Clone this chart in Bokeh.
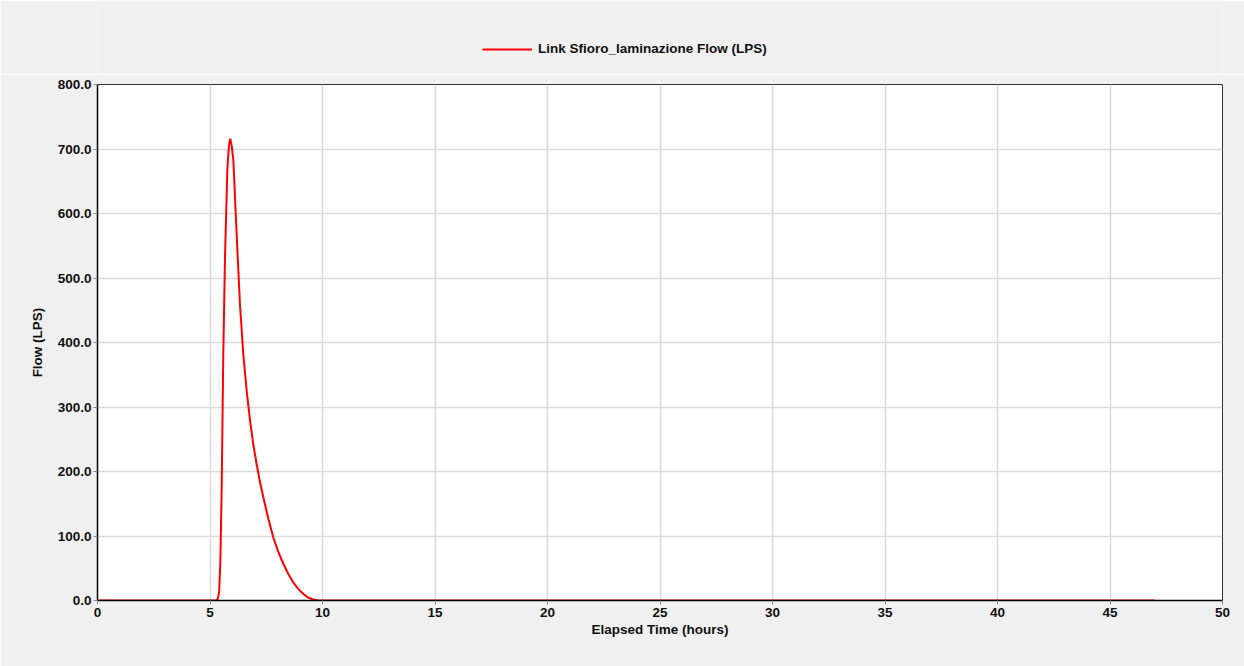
from bokeh.plotting import figure
from bokeh.layouts import column
from bokeh.models import Legend, LegendItem, FixedTicker, NumeralTickFormatter, Range1d
from bokeh.embed import file_html
from bokeh.resources import INLINE

# Elapsed time (hours) and flow (LPS)
time_h = [0.0, 5.0, 5.30, 5.36, 5.41, 5.46, 5.52, 5.59, 5.67, 5.77, 5.84, 5.90, 5.96, 6.04, 6.19,
          6.33, 6.48, 6.63, 6.78, 6.92, 7.07, 7.22, 7.37, 7.59, 7.81, 8.04, 8.26, 8.48,
          8.70, 8.92, 9.15, 9.37, 9.59, 9.80, 20.0, 47.0]
flow_lps = [0.0, 0.0, 0.0, 4.0, 15.0, 60.0, 176.0, 382.0, 537.0, 667.0, 705.0, 716.0, 706.0, 682.0, 563.0,
            460.0, 382.0, 325.0, 279.0, 243.0, 212.0, 184.0, 160.0, 127.0, 98.0, 75.0, 57.0, 41.0,
            28.0, 18.0, 10.0, 4.5, 1.5, 0.0, 0.0, 0.0]
series_name = "Link Sfioro_laminazione Flow (LPS)"
x_ticks = [0, 5, 10, 15, 20, 25, 30, 35, 40, 45, 50]
y_ticks = [0, 100, 200, 300, 400, 500, 600, 700, 800]

FONT = "Liberation Sans"
FS = "13.5px"
BG = "#f0f0f0"
LINE_COLOR = "#ff0000"

# ---- legend strip on top ----
top = figure(width=1244, height=74, output_backend="svg", toolbar_location=None,
             x_range=Range1d(-100, -90), y_range=Range1d(-100, -90),
             x_axis_type=None, y_axis_type=None,
             min_border_left=0, min_border_right=0, min_border_top=0, min_border_bottom=0,
             background_fill_color=BG, border_fill_color=BG)
top.outline_line_color = None
top.grid.visible = False
lr = top.line(time_h, flow_lps, line_color=LINE_COLOR, line_width=2)
legend = Legend(items=[LegendItem(label=series_name, renderers=[lr])],
                location=(385, 18), orientation="horizontal",
                background_fill_alpha=0, border_line_alpha=0,
                label_text_font=FONT, label_text_font_style="bold",
                label_text_font_size=FS, label_text_color="#111111",
                glyph_width=50, glyph_height=14, padding=0, margin=0, spacing=0,
                label_standoff=6)
top.add_layout(legend, "center")

# ---- main chart ----
p = figure(width=1244, height=592, output_backend="svg", toolbar_location=None,
           x_range=Range1d(0, 50), y_range=Range1d(0, 800),
           min_border_left=97, min_border_right=22, min_border_top=10, min_border_bottom=66,
           background_fill_color="white", border_fill_color=BG)

p.line(time_h, flow_lps, line_color=LINE_COLOR, line_width=2)

p.outline_line_color = "#333333"
p.outline_line_width = 1

for ax in (p.xaxis[0], p.yaxis[0]):
    ax.axis_line_color = "black"
    ax.axis_line_width = 1.5
    ax.major_tick_out = 4
    ax.major_tick_in = 0
    ax.minor_tick_out = 0
    ax.minor_tick_in = 0
    ax.major_tick_line_color = "#888888"
    ax.major_label_text_font = FONT
    ax.major_label_text_font_style = "bold"
    ax.major_label_text_font_size = FS
    ax.major_label_text_color = "#111111"
    ax.axis_label_text_font = FONT
    ax.axis_label_text_font_style = "bold"
    ax.axis_label_text_font_size = FS
    ax.axis_label_text_color = "#111111"

p.xaxis[0].ticker = FixedTicker(ticks=x_ticks)
p.yaxis[0].ticker = FixedTicker(ticks=y_ticks)
p.yaxis[0].formatter = NumeralTickFormatter(format="0.0")
p.xaxis[0].axis_label = "Elapsed Time (hours)"
p.yaxis[0].axis_label = "Flow (LPS)"
p.xaxis[0].axis_label_standoff = 2
p.yaxis[0].axis_label_standoff = 10
p.xaxis[0].major_label_standoff = 3
p.yaxis[0].major_label_standoff = 2

p.xgrid.ticker = FixedTicker(ticks=x_ticks)
p.ygrid.ticker = FixedTicker(ticks=y_ticks)
p.xgrid.grid_line_color = "#dadada"
p.ygrid.grid_line_color = "#dadada"
p.xgrid.grid_line_width = 1.5
p.ygrid.grid_line_width = 1.5

layout = column(top, p, spacing=0)
open("out.html", "w").write(file_html(layout, INLINE))
